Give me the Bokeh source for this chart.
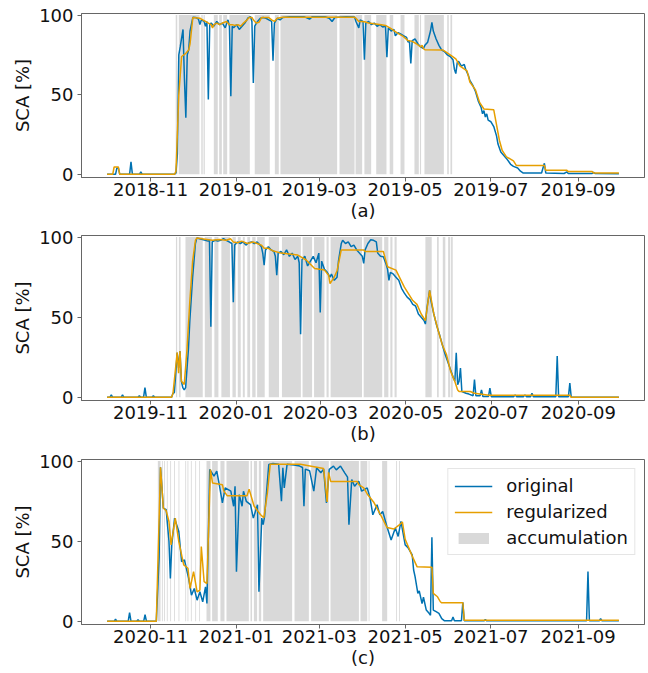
import pandas as pd
from bokeh.plotting import figure
from bokeh.layouts import column
from bokeh.models import (Range1d, Legend, LegendItem, MonthsTicker,
                          DatetimeTickFormatter, FixedTicker)
from bokeh.embed import file_html
from bokeh.resources import INLINE

# Snow covered area (SCA, %) per hydrological year, as (day since 1 Oct, value)
A_START = "2018-10-01"
A_END = "2019-09-30"
A_ORIGINAL = [
    (0, 0), (6, 0), (7, 4), (8, 4), (9, 0), (16, 0), (17, 7.8), (18, 0), (23, 0), (24, 1.5), (25, 0),
    (48, 0), (49, 1), (50, 13), (51, 75), (52, 80), (54, 91), (55, 60), (56, 35.6), (57, 75), (58, 78),
    (59, 90), (61, 98.6), (63, 98.5), (65, 97.5), (66, 94), (67, 97), (69, 96), (70, 93), (71, 96),
    (72, 47), (73, 94), (74, 95), (76, 93), (78, 96), (80, 94), (82, 95), (84, 92), (86, 97), (87, 93),
    (88, 49), (89, 93), (90, 92), (92, 94), (94, 91), (96, 93), (98, 95), (100, 98), (102, 99), (103, 96),
    (104, 57.4), (105, 93), (107, 96), (109, 98), (111, 98.5), (113, 98), (115, 97), (117, 96),
    (118, 71.3), (119, 95), (121, 98), (123, 97), (125, 98.5), (130, 99), (140, 99), (144, 97.5),
    (146, 99), (155, 99), (158, 98), (160, 96), (162, 98.5), (170, 99), (176, 98.8), (177, 96), (179, 92),
    (180, 97), (182, 96), (183, 72), (184, 95), (186, 96), (188, 94), (190, 95), (192, 93), (194, 94),
    (196, 92.5), (198, 93), (199, 73.5), (200, 92), (202, 90), (204, 91), (205, 87), (207, 89), (209, 88),
    (211, 87), (213, 86), (214, 83), (215, 84), (216, 69.6), (217, 84), (219, 85), (221, 82), (223, 80),
    (225, 79), (226, 81), (228, 83), (230, 90), (231, 95.4), (232, 90), (234, 85), (236, 81), (238, 78),
    (240, 77), (242, 75), (244, 74), (246, 72), (247, 66), (248, 63.3), (249, 70), (250, 71), (252, 68),
    (254, 69), (255, 66), (257, 62), (258, 59), (260, 56), (262, 52), (264, 46), (266, 42), (267, 38),
    (268, 40), (269, 36), (270, 38), (271, 34), (273, 33), (275, 30), (277, 24), (278, 19), (280, 14),
    (282, 12), (284, 10), (287, 6.3), (289, 5), (292, 4), (294, 2), (296, 0.8), (309, 0.8), (310, 4),
    (311, 6.9), (312, 0.8), (325, 0.5), (327, 1.5), (328, 0.5), (345, 0.5), (346, 1.2), (347, 0.5),
    (364, 0.3),
]
A_REGULARIZED = [
    (0, 0), (4, 0), (5, 4.6), (8, 4.6), (9, 0), (48, 0), (49, 2), (51, 50), (53, 74), (56, 76), (58, 78),
    (59, 82), (61, 98.5), (66, 98), (68, 97), (70, 96), (72, 95), (74, 94), (75, 92), (76, 94), (78, 95),
    (80, 94), (82, 95), (85, 96), (87, 94), (89, 94), (91, 93.5), (93, 94), (95, 93), (97, 95), (99, 96.5),
    (101, 98.5), (103, 98.5), (104, 97), (106, 95), (108, 95.5), (110, 98.5), (115, 98.5), (117, 97),
    (119, 96), (121, 98), (125, 98.7), (176, 98.7), (177, 98), (179, 96), (181, 96), (183, 95.8),
    (186, 95), (190, 94.5), (195, 94), (198, 93.5), (202, 91.5), (206, 89), (210, 87), (214, 84),
    (217, 83.5), (220, 82), (223, 80), (224, 81), (225, 79), (226, 78.2), (239, 78), (244, 75),
    (248, 72.5), (251, 68), (256, 65), (258, 58), (262, 53), (265, 45), (268, 41), (275, 40.5),
    (279, 21.4), (281, 15), (284, 11), (289, 8.4), (291, 5.6), (311, 5.6), (312, 2.5), (327, 2.5),
    (328, 1.7), (345, 1.7), (346, 0.8), (364, 0.8),
]
A_ACCUMULATION = [
    (48.8, 49.9), (51, 65.7), (67, 68), (68.6, 69.5), (75.9, 78.7), (79.7, 81.6), (82.6, 85.4),
    (87, 101.5), (105, 115.7), (119.3, 122.1), (123.3, 163.6), (165.3, 176), (176.7, 181.4),
    (183, 187.8), (191.4, 198.7), (201, 203.5), (208.7, 211.5), (218.6, 221.7), (222.5, 223.3),
    (225.7, 239.5), (241.9, 243), (244.2, 245.4),
]

B_START = "2019-10-01"
B_END = "2020-09-30"
B_ORIGINAL = [
    (0, 0), (2, 0), (3, 1.5), (4, 0), (10, 0), (11, 1.5), (12, 0), (22, 0), (23, 1), (24, 0), (26, 0),
    (27, 6), (28, 0), (32, 0), (33, 1), (34, 0), (46, 0), (47, 2.5), (48, 3), (50, 27.8), (51, 18.3),
    (52, 28.8), (53, 10), (54, 6), (55, 4.6), (56, 6), (58, 30), (59, 47.8), (61, 75), (63, 96),
    (64, 99.4), (66, 99), (68, 98.5), (70, 98), (72, 97.5), (73, 98), (74, 44), (75, 97), (77, 98),
    (79, 97.5), (81, 98), (83, 99), (85, 98), (87, 97), (89, 96), (90, 59.4), (91, 95), (93, 97),
    (95, 96), (97, 97), (99, 95), (101, 96.5), (103, 97), (105, 96), (107, 97), (109, 95), (110, 94),
    (111, 90), (112, 82.5), (113, 92), (115, 94), (117, 92), (119, 91), (120, 88), (121, 76.2), (122, 90),
    (124, 91), (126, 89), (128, 92), (130, 88), (132, 90), (134, 86), (136, 88), (137, 84), (138, 39.4),
    (139, 86), (141, 88), (143, 82), (145, 85), (147, 88), (149, 84), (151, 90), (152, 53), (153, 85),
    (155, 80), (157, 78), (159, 75), (160, 77), (162, 73), (164, 75), (165, 85), (167, 96), (168, 98),
    (170, 96), (172, 97), (174, 94), (176, 95), (178, 92), (180, 90), (182, 88), (183, 83.6), (184, 92),
    (186, 96), (188, 98.3), (190, 98), (192, 97), (193, 90), (195, 88), (197, 87.8), (199, 83), (200, 80),
    (201, 73), (202, 78), (204, 77), (206, 75), (208, 73), (210, 68), (212, 65), (214, 62.5), (216, 61),
    (218, 58), (220, 57), (222, 52), (224, 50), (226, 48), (227, 45.7), (228, 55), (230, 66.7), (231, 60),
    (233, 52), (235, 45), (237, 39.4), (239, 33), (241, 27), (243, 22), (245, 17), (247, 12), (248, 10),
    (249, 27.8), (250, 7.8), (251, 10), (252, 18.3), (253, 3.6), (256, 2.5), (258, 2), (261, 1), (262, 11),
    (263, 1), (266, 1), (267, 4.6), (268, 0.5), (272, 0.5), (273, 5.7), (274, 0.4), (290, 0.4), (291, 1.5),
    (292, 0.4), (297, 0.4), (298, 1.5), (299, 0.4), (302, 0.4), (303, 2.5), (304, 0.4), (320, 0.4),
    (321, 25.7), (322, 0.4), (329, 0.4), (330, 8.8), (331, 0), (365, 0),
]
B_REGULARIZED = [
    (0, 0), (46, 0), (47, 2.5), (50, 28), (51, 15), (52, 28.8), (53, 10), (55, 8), (57, 30), (59, 60),
    (61, 85), (63, 98), (64, 99.4), (70, 98.7), (75, 98), (80, 98.5), (85, 98), (88, 99), (90, 97),
    (93, 96.5), (96, 97.5), (100, 96), (104, 97), (107, 96), (110, 95), (112, 93), (115, 93), (118, 91.5),
    (124, 90), (130, 89.5), (136, 88.8), (142, 85.7), (148, 80.4), (155, 79.4), (158, 76.2), (159, 71),
    (162, 75), (164, 79), (167, 92), (183, 92), (184, 91), (197, 91), (200, 81.5), (206, 79.4),
    (212, 68.8), (218, 60.4), (221, 58), (224, 52), (227, 47.8), (230, 66.7), (233, 52), (236, 42),
    (239, 33), (242, 26.7), (245, 16.2), (248, 9.9), (250, 4.6), (251, 3.6), (259, 3.6), (262, 2.5),
    (271, 1.5), (272, 1.3), (330, 1.3), (331, 0), (365, 0),
]
B_ACCUMULATION = [
    (49.1, 50), (51.2, 52.4), (55.9, 68.2), (69.7, 74.7), (76.5, 79.4), (81.5, 87.6), (89.4, 91.8),
    (93.2, 95.3), (96.8, 98.2), (100, 102), (103.5, 105.9), (107, 112.4), (115.3, 122.6),
    (124.7, 138.2), (139.4, 146.2), (147.6, 155), (156.5, 158), (159.4, 181.8), (183, 196.2),
    (197.6, 200.6), (202, 203.5), (205, 206.5), (227, 231.5), (235.3, 236.5), (239.4, 241.2),
    (243.2, 244.7), (245.3, 246.5),
]

C_START = "2020-10-01"
C_END = "2021-09-30"
C_ORIGINAL = [
    (0, 0), (5, 0), (6, 1.3), (7, 0), (15, 0), (16, 5.4), (17, 0), (21, 0), (22, 1), (23, 0), (26, 0),
    (27, 4.2), (28, 0), (35, 0), (37, 40), (38, 96.2), (40, 70.7), (42, 69.7), (44, 50), (45, 26.8),
    (46, 47.7), (48, 64.4), (51, 56), (53, 37.2), (55, 38.3), (58, 26.8), (60, 16.3), (62, 20.5),
    (64, 13.2), (66, 18.4), (68, 12.1), (70, 21.5), (71, 11.1), (73, 94.8), (76, 90.6), (78, 93.7),
    (80, 84.3), (82, 73.9), (84, 83.3), (88, 81.2), (90, 71.8), (91, 84.3), (92, 31), (94, 79.1),
    (96, 71.8), (97, 81.2), (99, 74.9), (102, 72.8), (104, 64.4), (107, 72.8), (108, 18.4), (110, 64.4),
    (111, 60.3), (112, 65.5), (115, 97.9), (118, 98.5), (122, 98), (124, 74.9), (125, 95.8), (126, 83.3),
    (128, 98), (133, 97.5), (137, 96.9), (139, 96), (140, 71.8), (141, 95), (144, 94), (147, 81.2),
    (149, 95.8), (152, 92.7), (154, 95), (156, 73.9), (158, 94.8), (161, 96.9), (163, 94.5), (166, 96.9),
    (169, 92.7), (171, 90), (172, 60.3), (174, 88.5), (176, 84.3), (179, 87.5), (181, 81.2), (185, 83.3),
    (187, 77), (189, 66.5), (192, 72.8), (194, 66.5), (196, 68.6), (199, 59.2), (202, 50.8), (205, 58.2),
    (207, 53), (209, 62.4), (212, 47.7), (214, 46), (217, 41.4), (218, 32), (219, 28), (221, 17.4),
    (222, 19), (224, 11), (225, 15), (227, 7), (229, 5), (230, 3.8), (231, 52.5), (232, 7), (234, 6),
    (236, 5), (238, 1.7), (240, 0.3), (245, 0.3), (246, 2.7), (247, 0.3), (252, 0.3), (253, 11.8),
    (254, 0.3), (268, 0.3), (269, 1), (270, 0.3), (341, 0.3), (342, 31), (343, 0.3), (350, 0.3),
    (351, 1.7), (352, 0.3), (364, 0.3),
]
C_REGULARIZED = [
    (0, 0), (35, 0), (38, 96.2), (40, 70.7), (42, 69), (44, 62.3), (45.5, 47.7), (48.5, 64.4), (51, 49.7),
    (54.5, 35.2), (57.5, 33.1), (59, 20.5), (61.5, 31), (64, 18.4), (66, 19.5), (67, 46.6), (69, 24.7),
    (71, 23.6), (73.5, 94.7), (75, 86.3), (82, 85.3), (83, 81.4), (85.5, 78.3), (99.5, 78.3),
    (101, 82.5), (104.5, 72), (109, 66.7), (111.5, 64.6), (114, 80), (116, 98), (137.5, 98),
    (154, 95.4), (156.5, 74.5), (157.5, 93), (159, 87.3), (178, 87.3), (179, 85.3), (182.5, 83.3),
    (185, 79.5), (189.5, 74.5), (194.5, 66.5), (199, 58.6), (204, 57.6), (208.5, 60.7), (210, 62),
    (212, 51.2), (217, 40.7), (220.5, 34), (231, 33.8), (232, 17.4), (235, 15.3), (237, 12.2),
    (238, 11.5), (253, 11.5), (254, 0.6), (364, 0.6),
]
C_ACCUMULATION = [
    (36.1, 38), (39, 39.6), (40.6, 41.2), (42.5, 43.1), (44.9, 45.5), (47.7, 48.3), (50.8, 51.4),
    (55.6, 56.2), (57.2, 57.8), (59.6, 60.2), (62.7, 63.3), (65.5, 66.1), (70.7, 73.5), (74.7, 78.7),
    (80.6, 83.5), (84.9, 100.8), (102, 103.1), (104.4, 106.7), (107.9, 109.6), (111, 131.6),
    (133.3, 143.5), (145.1, 157.7), (158.9, 179.1), (180.2, 185), (186, 186.6), (195.6, 199.2),
    (205.5, 206.1), (207.7, 208.3),
]

BLUE = "#0072b2"
ORANGE = "#e69f00"
GRAY = "#d9d9d9"
FRAME = "#666666"
FONT = "DejaVu Sans"


def to_dates(start, days):
    t0 = pd.Timestamp(start)
    return [t0 + pd.Timedelta(days=float(d)) for d in days]


def panel(start, end, original, regularized, accumulation, caption,
          top, frame_h, bottom, with_legend=False):
    t0, t1 = pd.Timestamp(start), pd.Timestamp(end)
    pad = (t1 - t0) * 0.05
    p = figure(frame_width=563, frame_height=frame_h, x_axis_type="datetime",
               x_range=Range1d((t0 - pad).to_pydatetime(), (t1 + pad).to_pydatetime()),
               y_range=Range1d(-2, 101),
               min_border_left=81, min_border_right=4,
               min_border_top=top, min_border_bottom=bottom,
               output_backend="svg", toolbar_location=None)
    p.background_fill_color = "white"
    p.border_fill_color = "white"
    p.outline_line_color = FRAME
    p.outline_line_width = 1
    p.xgrid.visible = False
    p.ygrid.visible = False

    acc_l = to_dates(start, [a for a, _ in accumulation])
    acc_r = to_dates(start, [b for _, b in accumulation])
    r_acc = p.quad(left=acc_l, right=acc_r, bottom=0, top=100,
                   fill_color=GRAY, line_color=None)

    r_orig = p.line(to_dates(start, [d for d, _ in original]), [v for _, v in original],
                    line_color=BLUE, line_width=1.5)
    r_reg = p.line(to_dates(start, [d for d, _ in regularized]), [v for _, v in regularized],
                   line_color=ORANGE, line_width=1.5)

    p.xaxis.ticker = MonthsTicker(months=[0, 2, 4, 6, 8, 10])
    p.xaxis.formatter = DatetimeTickFormatter(months="%Y-%m", days="%Y-%m", years="%Y-%m")
    p.yaxis.ticker = FixedTicker(ticks=[0, 50, 100])
    for ax in (p.xaxis[0], p.yaxis[0]):
        ax.major_label_text_font = FONT
        ax.major_label_text_font_size = "18px"
        ax.major_label_text_color = "#111111"
        ax.axis_label_text_font = FONT
        ax.axis_label_text_font_size = "18px"
        ax.axis_label_text_font_style = "normal"
        ax.axis_label_text_color = "#111111"
        ax.axis_line_color = FRAME
        ax.major_tick_line_color = FRAME
        ax.major_tick_out = 4
        ax.major_tick_in = 0
        ax.minor_tick_line_color = None
    p.xaxis.axis_label = caption
    p.xaxis.major_label_standoff = 1
    p.xaxis.axis_label_standoff = 1
    p.yaxis.axis_label = "SCA [%]"
    p.yaxis.major_label_standoff = 4
    p.yaxis.axis_label_standoff = 3

    if with_legend:
        legend = Legend(items=[LegendItem(label="original", renderers=[r_orig]),
                               LegendItem(label="regularized", renderers=[r_reg]),
                               LegendItem(label="accumulation", renderers=[r_acc])],
                        location="top_right", margin=9, padding=6, spacing=5,
                        glyph_width=38, glyph_height=14, label_height=21,
                        label_standoff=14, label_text_font=FONT,
                        label_text_font_size="18px", label_text_color="#111111",
                        border_line_color="#cccccc", border_line_width=1,
                        background_fill_color="white", background_fill_alpha=0.85)
        p.add_layout(legend)
    return p


pa = panel(A_START, A_END, A_ORIGINAL, A_REGULARIZED, A_ACCUMULATION, "(a)", 13, 164, 48)
pb = panel(B_START, B_END, B_ORIGINAL, B_REGULARIZED, B_ACCUMULATION, "(b)", 10, 165, 47)
pc = panel(C_START, C_END, C_ORIGINAL, C_REGULARIZED, C_ACCUMULATION, "(c)", 12, 165, 49,
           with_legend=True)

layout = column(pa, pb, pc, spacing=0)
open("out.html", "w").write(file_html(layout, INLINE))
